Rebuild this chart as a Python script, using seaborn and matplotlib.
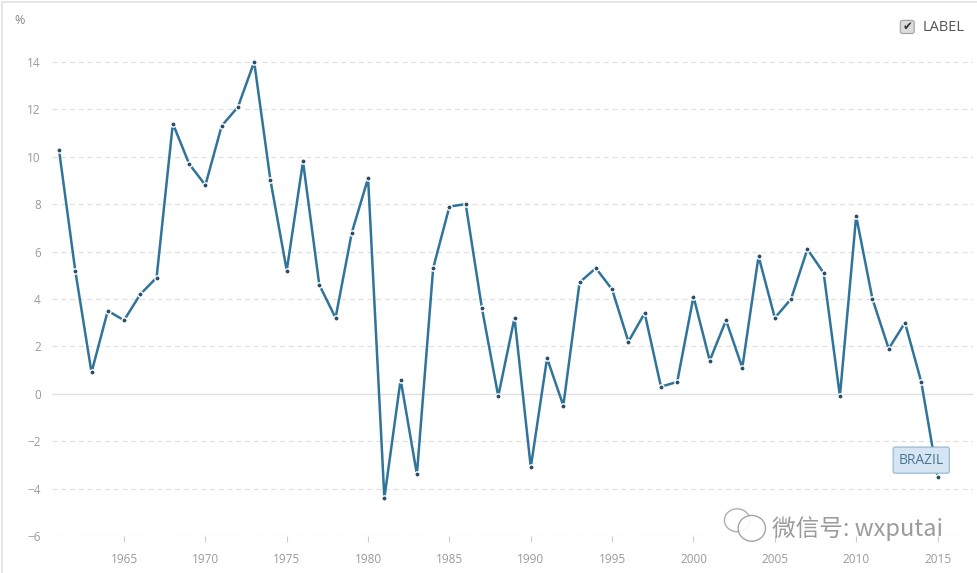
import pandas as pd
import matplotlib
matplotlib.use("Agg")
import matplotlib.pyplot as plt
import seaborn as sns
from matplotlib.patches import Rectangle, FancyBboxPatch, Ellipse

# data: Brazil GDP growth (annual %)
years = list(range(1961, 2016))
growth = [10.3, 5.2, 0.9, 3.5, 3.1, 4.2, 4.9, 11.4, 9.7, 8.8,
          11.3, 12.1, 14.0, 9.0, 5.2, 9.8, 4.6, 3.2, 6.8, 9.1,
          -4.4, 0.6, -3.4, 5.3, 7.9, 8.0, 3.6, -0.1, 3.2, -3.1,
          1.5, -0.5, 4.7, 5.3, 4.4, 2.2, 3.4, 0.3, 0.5, 4.1,
          1.4, 3.1, 1.1, 5.8, 3.2, 4.0, 6.1, 5.1, -0.1, 7.5,
          4.0, 1.9, 3.0, 0.5, -3.5]
y_ticks = [-6, -4, -2, 0, 2, 4, 6, 8, 10, 12, 14]
x_ticks = [1965, 1970, 1975, 1980, 1985, 1990, 1995, 2000, 2005, 2010, 2015]

df = pd.DataFrame({'year': years, 'growth': growth})

sns.set_theme(style="white")
plt.rcParams['font.family'] = ['Open Sans', 'Noto Sans CJK SC', 'DejaVu Sans']

fig = plt.figure(figsize=(9.77, 5.73), dpi=100)
# light border of the screenshot
fig.patches.append(Rectangle((0.002, -0.01), 1.1, 1.006, transform=fig.transFigure,
                             fill=False, edgecolor='#e2e2e2', linewidth=1.2))
ax = fig.add_axes([0.0532, 0.0646, 0.9427, 0.848])

# grid lines
for t in y_ticks:
    if t == 0:
        ax.axhline(0, color='#e0e0e0', linewidth=1, zorder=1)
    else:
        ax.axhline(t, color='#e0e0e0', linewidth=0.9, linestyle=(0, (4, 3)), zorder=1)

sns.lineplot(data=df, x='year', y='growth', ax=ax, color='#30749a', linewidth=1.8,
             marker='o', markersize=3.8, markerfacecolor='#2c4f66',
             markeredgecolor='white', markeredgewidth=1.0, zorder=3)

ax.set_xlim(1960.57, 2017.18)
ax.set_ylim(-6, 14.5)
ax.set_yticks(y_ticks)
ax.set_xticks(x_ticks)
ax.set_xlabel('')
ax.set_ylabel('')
for s in ax.spines.values():
    s.set_visible(False)
ax.tick_params(axis='y', length=0, pad=8, labelsize=8.5, labelcolor='#9a9a9a')
ax.tick_params(axis='x', length=4, width=0.8, color='#cccccc', pad=8,
               labelsize=8.5, labelcolor='#9a9a9a', bottom=True)

# "%" unit label
fig.text(0.015, 0.965, '%', fontsize=9, color='#888888', va='center')

# legend checkbox
fig.patches.append(FancyBboxPatch((0.9225, 0.9425), 0.0122, 0.021,
                                  boxstyle='round,pad=0.001,rounding_size=0.003',
                                  transform=fig.transFigure, facecolor='#dcdcdc',
                                  edgecolor='#a0a0a0', linewidth=0.8))
fig.text(0.9287, 0.9535, '✔', fontsize=8.5, color='#333333', ha='center', va='center',
         family=['DejaVu Sans'])
fig.text(0.944, 0.952, 'LABEL', fontsize=10.5, color='#555555', va='center')

# series label
ax.text(2014.0, -2.8, 'BRAZIL', fontsize=10, color='#4b7796', ha='center', va='center',
        zorder=5, bbox=dict(boxstyle='round,pad=0.4,rounding_size=0.15',
                            facecolor='#d5e5f2', edgecolor='#9bbbd3', linewidth=0.9))

# watermark: wechat icon and account name
fig.patches.append(Ellipse((0.7545, 0.092), 0.026, 0.04, transform=fig.transFigure,
                           fill=False, edgecolor='#9a9a9a', linewidth=1.0, alpha=0.8))
fig.patches.append(Ellipse((0.7695, 0.078), 0.028, 0.045, transform=fig.transFigure,
                           facecolor='white', edgecolor='#9a9a9a', linewidth=1.0, alpha=0.9,
                           zorder=11))
fig.text(0.79, 0.078, '微信号: wxputai', fontsize=17, color='#8a8a8a', alpha=0.85,
         va='center', family=['Noto Sans CJK SC', 'DejaVu Sans'], zorder=10)

fig.savefig('out.png', dpi=100)
